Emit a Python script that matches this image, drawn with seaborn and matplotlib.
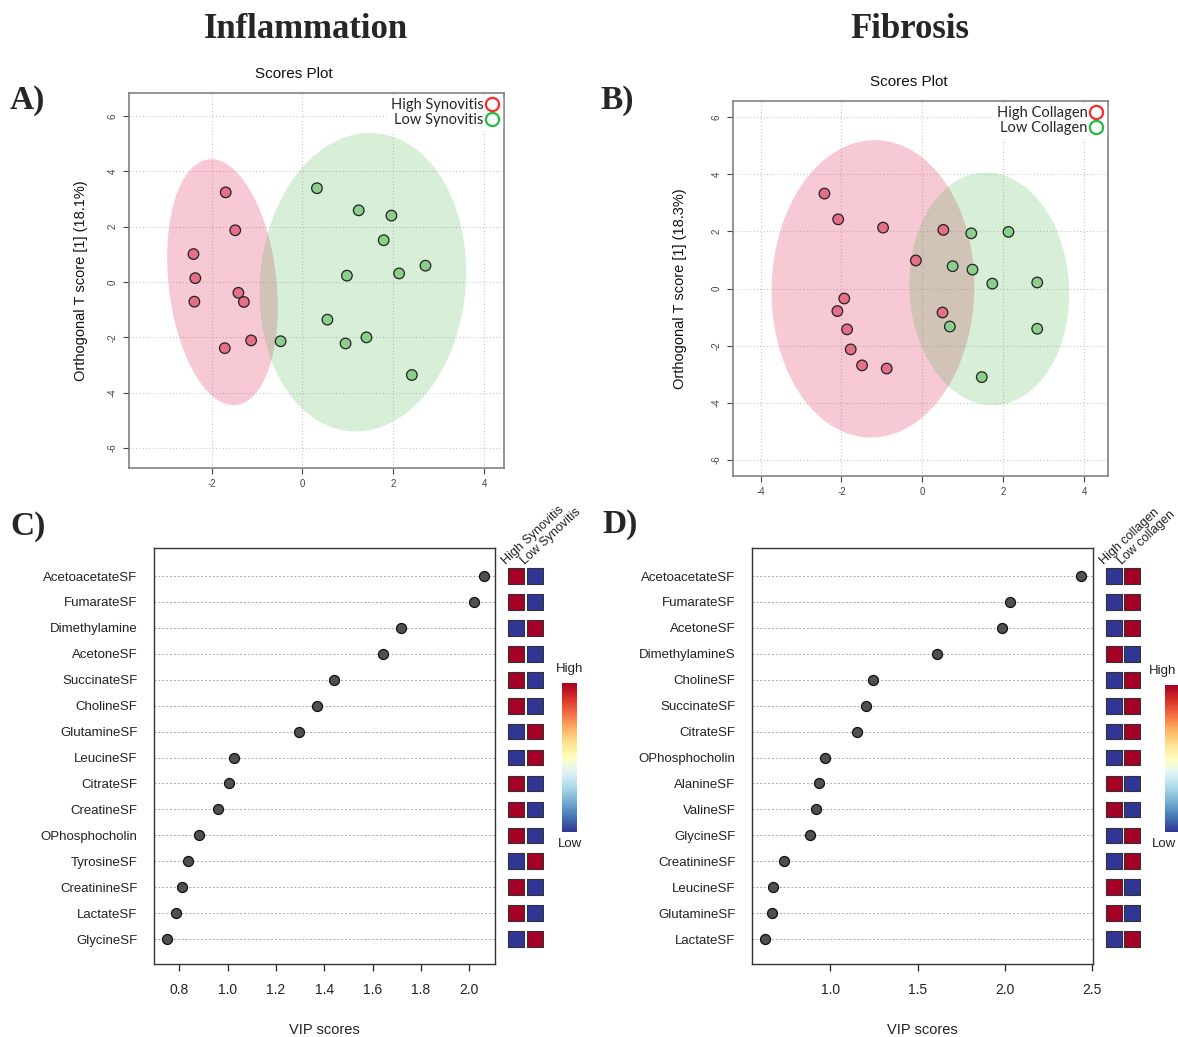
import numpy as np
import pandas as pd
import matplotlib
matplotlib.use("Agg")
import matplotlib.pyplot as plt
import seaborn as sns
from matplotlib.cm import ScalarMappable
from matplotlib.colors import Normalize
from matplotlib.lines import Line2D

# ---------------- data ----------------
# Panel A (Inflammation scores)
a_high_x = [-1.69, -1.48, -2.40, -2.36, -2.38, -1.41, -1.29, -1.13, -1.71]
a_high_y = [3.24, 1.87, 1.01, 0.14, -0.71, -0.39, -0.72, -2.11, -2.39]
a_low_x = [0.32, 1.24, 1.96, 1.79, 0.98, 2.13, 2.71, 0.55, -0.48, 0.95, 1.41, 2.41]
a_low_y = [3.39, 2.59, 2.40, 1.51, 0.23, 0.31, 0.59, -1.36, -2.14, -2.22, -2.00, -3.36]
a_groups = ["High Synovitis", "Low Synovitis"]

# Panel B (Fibrosis scores)
b_high_x = [-2.42, -2.08, -0.97, 0.52, -0.16, -1.93, -2.10, -1.86, -1.77, -1.49, -0.88, 0.50]
b_high_y = [3.32, 2.42, 2.13, 2.05, 0.98, -0.35, -0.79, -1.43, -2.13, -2.69, -2.80, -0.84]
b_low_x = [1.21, 2.13, 0.75, 1.24, 1.73, 2.84, 0.68, 2.84, 1.47]
b_low_y = [1.93, 1.98, 0.78, 0.66, 0.17, 0.21, -1.33, -1.41, -3.10]
b_groups = ["High Collagen", "Low Collagen"]

# Panel C (VIP, inflammation)
c_names = ["AcetoacetateSF", "FumarateSF", "Dimethylamine", "AcetoneSF", "SuccinateSF",
           "CholineSF", "GlutamineSF", "LeucineSF", "CitrateSF", "CreatineSF",
           "OPhosphocholin", "TyrosineSF", "CreatinineSF", "LactateSF", "GlycineSF"]
c_vip = [2.061, 2.019, 1.717, 1.642, 1.440, 1.370, 1.295, 1.026, 1.006, 0.960,
         0.882, 0.836, 0.811, 0.786, 0.749]
c_cols = ["High Synovitis", "Low Synovitis"]
c_high = [1, 1, 0, 1, 1, 1, 0, 0, 1, 1, 1, 0, 1, 1, 0]
c_low = [0, 0, 1, 0, 0, 0, 1, 1, 0, 0, 0, 1, 0, 0, 1]

# Panel D (VIP, fibrosis)
d_names = ["AcetoacetateSF", "FumarateSF", "AcetoneSF", "DimethylamineS", "CholineSF",
           "SuccinateSF", "CitrateSF", "OPhosphocholin", "AlanineSF", "ValineSF",
           "GlycineSF", "CreatinineSF", "LeucineSF", "GlutamineSF", "LactateSF"]
d_vip = [2.435, 2.029, 1.983, 1.611, 1.244, 1.204, 1.153, 0.970, 0.935, 0.918,
         0.884, 0.735, 0.672, 0.666, 0.626]
d_cols = ["High collagen", "Low collagen"]
d_high = [0, 0, 0, 1, 0, 0, 0, 0, 1, 1, 0, 0, 1, 1, 0]
d_low = [1, 1, 1, 0, 1, 1, 1, 1, 0, 0, 1, 1, 0, 0, 1]

# ---------------- style ----------------
sns.set_theme(style="white")
plt.rcParams["font.family"] = ["Liberation Sans", "DejaVu Sans"]

W, H = 1178, 1037
fig = plt.figure(figsize=(W / 100, H / 100), dpi=100)


def rect(l, t, r, b):
    return [l / W, 1 - b / H, (r - l) / W, (b - t) / H]


CHI2_95 = 5.991
PINK_RGB = (0.90, 0.30, 0.45)
GREEN_RGB = (0.30, 0.70, 0.30)
PT_RED = "#e56e89"
PT_GREEN = "#8ccf8c"
CMAP = plt.get_cmap("RdYlBu_r")


def scores_panel(ax, hx, hy, lx, ly, groups, xticks, xlim, ylim, ylabel, ylab_x):
    df = pd.DataFrame({
        "x": hx + lx,
        "y": hy + ly,
        "g": [groups[0]] * len(hx) + [groups[1]] * len(lx),
    })
    ax.grid(True, ls=(0, (1, 2)), color="#c8c8c8", lw=0.8)
    ax.set_axisbelow(True)
    for g, col, al in [(groups[0], PINK_RGB, 0.30), (groups[1], GREEN_RGB, 0.22)]:
        sub = df[df.g == g]
        pts = np.c_[sub.x.values, sub.y.values]
        mu = pts.mean(axis=0)
        L = np.linalg.cholesky(np.cov(pts.T))
        t = np.linspace(0, 2 * np.pi, 300)
        e = mu[:, None] + L @ (np.vstack([np.cos(t), np.sin(t)]) * np.sqrt(CHI2_95))
        ax.fill(e[0], e[1], color=col, alpha=al, lw=0, zorder=1)
    sns.scatterplot(data=df, x="x", y="y", hue="g", palette=[PT_RED, PT_GREEN],
                    s=58, edgecolor="#222222", linewidth=0.9, legend=False,
                    ax=ax, zorder=3)
    ax.set_xlim(*xlim)
    ax.set_ylim(*ylim)
    ax.set_xticks(xticks)
    ax.set_yticks([-6, -4, -2, 0, 2, 4, 6])
    ax.set_xticklabels([str(v) for v in xticks])
    ax.set_yticklabels([str(v) for v in [-6, -4, -2, 0, 2, 4, 6]], rotation=90, va="center")
    ax.tick_params(axis="both", labelsize=7, colors="#444444", length=4, width=0.8,
                   bottom=True, left=True, direction="out", pad=4)
    for s in ax.spines.values():
        s.set_color("#808080")
        s.set_linewidth(1.2)
    ax.set_xlabel("")
    ax.set_ylabel(ylabel, fontsize=10.5, color="#111111")
    ax.yaxis.set_label_coords(ylab_x, 0.5)
    handles = [Line2D([], [], marker="o", ls="none", mfc="none", mec="#ff2a2a", mew=1.6, ms=9.5),
               Line2D([], [], marker="o", ls="none", mfc="none", mec="#22bb44", mew=1.6, ms=9.5)]
    leg = ax.legend(handles, groups, loc="upper right", markerfirst=False, frameon=True,
                    facecolor="white", edgecolor="white", framealpha=1.0,
                    borderaxespad=0.15, borderpad=0.2, handletextpad=0.05,
                    labelspacing=0.05, handlelength=1.0,
                    prop={"family": "Lato", "size": 10.5})
    leg.set_zorder(5)


def vip_panel(ax, axh, cax, names, vips, cols, high, low, xlim, xticks, xtlabels,
              cb_x, cb_top, cb_bot, cb_ha):
    n = len(names)
    df = pd.DataFrame({"name": names, "vip": vips})
    sns.stripplot(data=df, x="vip", y="name", jitter=False, size=7.2, color="#505050",
                  edgecolor="#111111", linewidth=0.9, ax=ax, zorder=3)
    ax.set_xlim(*xlim)
    ax.set_ylim(n - 1 + 0.96, -1.08)
    ax.grid(True, axis="y", ls=(0, (2, 2)), color="#a8a8a8", lw=0.7)
    ax.grid(False, axis="x")
    ax.set_axisbelow(True)
    ax.set_xticks(xticks)
    ax.set_xticklabels(xtlabels)
    ax.tick_params(axis="x", bottom=True, length=5, width=0.9, color="#222222",
                   labelsize=10, labelcolor="#222222", pad=9)
    ax.tick_params(axis="y", left=False, labelsize=9.5, labelcolor="#222222", pad=6)
    for s in ax.spines.values():
        s.set_color("#333333")
        s.set_linewidth(1.0)
    ax.set_ylabel("")
    ax.set_xlabel("VIP scores", fontsize=10.5, color="#222222", va="top")
    ax.xaxis.set_label_coords(0.5, -0.142)

    # heat squares
    long = pd.DataFrame({
        "row": list(range(n)) * 2,
        "col": [0] * n + [1] * n,
        "val": high + low,
    })
    sns.scatterplot(data=long, x="col", y="row", hue="val",
                    palette={0: CMAP(0.0), 1: CMAP(1.0)}, marker="s", s=128,
                    edgecolor="#333333", linewidth=0.8, legend=False, ax=axh)
    axh.set_xlim(-0.5, 1.5)
    axh.set_ylim(n - 1 + 0.96, -1.08)
    axh.set_axis_off()
    for i, c in enumerate(cols):
        axh.text(i - 0.55, -0.42, c, rotation=43, rotation_mode="anchor",
                 ha="left", va="baseline", fontsize=9, color="#222222")

    # colour bar
    cb = fig.colorbar(ScalarMappable(norm=Normalize(0, 1), cmap=CMAP), cax=cax)
    cb.outline.set_visible(False)
    cax.set_yticks([])
    fig.text(cb_x / W, 1 - (cb_top - 14) / H, "High", ha=cb_ha, va="center",
             fontsize=9.5, color="#222222")
    fig.text(cb_x / W, 1 - (cb_bot + 12) / H, "Low", ha=cb_ha, va="center",
             fontsize=9.5, color="#222222")


# ---------------- panels ----------------
axA = fig.add_axes(rect(129, 93, 504, 468))
scores_panel(axA, a_high_x, a_high_y, a_low_x, a_low_y, a_groups,
             [-2, 0, 2, 4], (-3.82, 4.44), (-6.72, 6.83),
             "Orthogonal T score [1] (18.1%)", -0.11)

axB = fig.add_axes(rect(733, 101, 1108, 476))
scores_panel(axB, b_high_x, b_high_y, b_low_x, b_low_y, b_groups,
             [-4, -2, 0, 2, 4], (-4.68, 4.59), (-6.56, 6.56),
             "Orthogonal T score [1] (18.3%)", -0.123)

axC = fig.add_axes(rect(154, 548, 495, 964))
axCh = fig.add_axes(rect(507, 548, 544, 964))
caxC = fig.add_axes(rect(562, 683, 577, 832))
vip_panel(axC, axCh, caxC, c_names, c_vip, c_cols, c_high, c_low,
          (0.695, 2.106), [0.8, 1.0, 1.2, 1.4, 1.6, 1.8, 2.0],
          ["0.8", "1.0", "1.2", "1.4", "1.6", "1.8", "2.0"], 570, 683, 832, "center")

axD = fig.add_axes(rect(752, 548, 1093, 964))
axDh = fig.add_axes(rect(1105, 548, 1141, 964))
caxD = fig.add_axes(rect(1165, 685, 1178, 832))
vip_panel(axD, axDh, caxD, d_names, d_vip, d_cols, d_high, d_low,
          (0.552, 2.505), [1.0, 1.5, 2.0, 2.5],
          ["1.0", "1.5", "2.0", "2.5"], 1176, 685, 832, "right")

# ---------------- titles and letters ----------------
fig.text(294 / W, 1 - 74 / H, "Scores Plot", ha="center", va="center", fontsize=11, color="#111111")
fig.text(909 / W, 1 - 82 / H, "Scores Plot", ha="center", va="center", fontsize=11, color="#111111")

serif = ["Liberation Serif", "DejaVu Serif"]
fig.text(306 / W, 1 - 30 / H, "Inflammation", ha="center", va="center", fontsize=25,
         fontweight="bold", family=serif)
fig.text(910 / W, 1 - 30 / H, "Fibrosis", ha="center", va="center", fontsize=25,
         fontweight="bold", family=serif)
for lab, x, y in [("A)", 10, 101), ("B)", 600, 100), ("C)", 10, 527), ("D)", 602, 525)]:
    fig.text(x / W, 1 - y / H, lab, ha="left", va="center", fontsize=24,
             fontweight="bold", family=serif)

fig.savefig("out.png", dpi=100)
